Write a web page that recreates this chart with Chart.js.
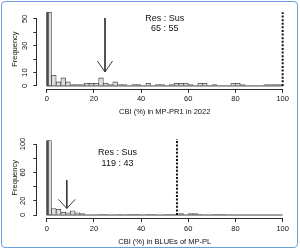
<!DOCTYPE html>
<html>
<head>
<meta charset="utf-8">
<script src="https://cdn.jsdelivr.net/npm/chart.js@4.4.1/dist/chart.umd.min.js"></script>
<style>
  body { margin: 0; background: #fff; }
  #frame { position: absolute; left: 0; top: 0; width: 300px; height: 250px; overflow: hidden; }
  canvas { position: absolute; left: 0; }
  #border { position: absolute; left: 1px; top: 1px; width: 295px; height: 245px;
            border: 1.5px solid #6b9ee0; border-radius: 4px; pointer-events: none; }
</style>
</head>
<body>
<div id="frame">
  <canvas id="topChart" width="300" height="125" style="top:0"></canvas>
  <canvas id="bottomChart" width="300" height="125" style="top:125px"></canvas>
  <div id="border"></div>
</div>
<script>
"use strict";

// bin midpoints (bins of 2 % CBI)
const binMids = [1, 3, 5, 7, 9, 11, 13, 15, 17, 19, 21, 23, 25, 27, 29, 31, 33, 35, 37, 39,
                 41, 43, 45, 47, 49, 51, 53, 55, 57, 59, 61, 63, 65, 67, 69, 71, 73, 75, 77, 79,
                 81, 83, 85, 87, 89, 91, 93, 95, 97, 99];

const topCounts = [55, 8, 3, 6, 3, 1, 1, 1, 2, 2, 2, 6, 2, 1, 3, 1, 1, 0, 1, 1,
                   0, 2, 0, 1, 1, 0, 1, 2, 2, 2, 1, 0, 2, 2, 0, 1, 0, 0, 0, 2,
                   2, 1, 0, 0, 0, 0, 1, 1, 1, 1];

const bottomCounts = [105, 9, 8, 4, 3, 6, 3, 2, 0, 0, 0, 1, 1, 0, 0, 1, 0, 1, 1, 1,
                      0, 1, 1, 0, 0, 1, 1, 1, 2, 0, 2, 2, 1, 0, 0, 1, 1, 1, 0, 0,
                      0, 0, 0, 0, 0, 0, 0, 0, 0, 0];

const xTicks = [0, 20, 40, 60, 80, 100];
const topYTicks = [0, 10, 20, 30, 40, 50];
const topYLabels = ['0', '10', '', '30', '', '50'];
const bottomYTicks = [0, 20, 40, 60, 80, 100];
const bottomYLabels = ['0', '20', '', '60', '', '100'];

const topTitle = 'CBI (%) in MP-PR1 in 2022';
const bottomTitle = 'CBI (%) in BLUEs of MP-PL';
const topRatio = ['Res : Sus', '65 : 55'];
const bottomRatio = ['Res : Sus', '119 : 43'];

// arrows: x, top, tip
const topArrow = {x: 24.7, top: 50.7, tip: 10.4};
const bottomArrow = {x: 8.5, top: 49, tip: 9.4};
// threshold (dotted) lines
const topThreshold = 100;
const bottomThreshold = 55.2;

const FONT = '"Liberation Sans", Arial, Helvetica, sans-serif';
const INK = '#2b2b2b';

const rAxes = {
  id: 'rAxes',
  afterDraw(chart, args, opts) {
    const {ctx, scales: {x, y}} = chart;
    const xt = x.ticks, yt = y.ticks;
    ctx.save();
    ctx.strokeStyle = INK;
    ctx.lineWidth = 1;
    ctx.beginPath();
    const ay = Math.round(x.top) + 0.5;
    ctx.moveTo(x.getPixelForValue(xt[0].value), ay);
    ctx.lineTo(x.getPixelForValue(xt[xt.length - 1].value), ay);
    const ax = Math.round(y.right) - 0.5;
    ctx.moveTo(ax, y.getPixelForValue(yt[0].value));
    ctx.lineTo(ax, y.getPixelForValue(yt[yt.length - 1].value));
    ctx.stroke();
    ctx.fillStyle = '#111';
    ctx.font = '9px ' + FONT;
    ctx.textAlign = 'center';
    ctx.textBaseline = 'middle';
    opts.text.forEach((t, i) => {
      ctx.fillText(t, x.getPixelForValue(opts.textX), y.getPixelForValue(opts.textY[i]));
    });
    ctx.restore();
  }
};

function makeHist(id, counts, yTicks, yLabels, title, ratio, arrow, threshold, lay) {
  const maxCount = Math.max(...counts);
  const yPad = maxCount * 0.04;
  const wing = lay.wing;
  const datasets = [
    {
      type: 'bar',
      data: binMids.map((m, i) => ({x: m, y: counts[i]})),
      backgroundColor: '#dedede',
      borderColor: '#444',
      borderWidth: 0.8,
      borderSkipped: 'start',
      barPercentage: 1,
      categoryPercentage: 1,
      order: 2
    },
    { // baseline of the histogram
      type: 'line',
      data: [{x: 0, y: 0}, {x: 100, y: 0}],
      borderColor: '#444', borderWidth: 1, pointRadius: 0, order: 1
    },
    { // dark band at 0
      type: 'line',
      data: [{x: 0.35, y: 0}, {x: 0.35, y: maxCount}],
      borderColor: '#4d4d4d', borderWidth: 2.5, pointRadius: 0, order: 0
    },
    { // dotted threshold
      type: 'line',
      data: [{x: threshold, y: 0}, {x: threshold, y: lay.thrTop}],
      borderColor: '#111', borderWidth: 2, borderDash: [2, 1.6], pointRadius: 0, order: 0
    },
    { // arrow shaft
      type: 'line',
      data: [{x: arrow.x, y: arrow.top}, {x: arrow.x, y: arrow.tip}],
      borderColor: '#3a3a3a', borderWidth: 1, pointRadius: 0, order: 0
    },
    { // arrow head
      type: 'line',
      data: [{x: arrow.x - wing.dx, y: arrow.tip + wing.dy}, {x: arrow.x, y: arrow.tip},
             {x: arrow.x + wing.dx, y: arrow.tip + wing.dy}],
      borderColor: '#3a3a3a', borderWidth: 1, pointRadius: 0, order: 0
    }
  ];

  return new Chart(document.getElementById(id), {
    data: {datasets: datasets},
    plugins: [rAxes],
    options: {
      responsive: false,
      animation: false,
      layout: {padding: {left: 0, right: 7.9, top: lay.top, bottom: 0}},
      plugins: {
        legend: {display: false},
        tooltip: {enabled: false},
        rAxes: {text: ratio, textX: lay.textX, textY: lay.textY}
      },
      scales: {
        x: {
          type: 'linear',
          offset: false,
          min: -4, max: 104,
          afterBuildTicks: s => { s.ticks = xTicks.map(v => ({value: v})); },
          afterFit: s => { s.height = lay.xHeight; },
          grid: {offset: false, drawOnChartArea: false, drawTicks: true, tickLength: 4, color: INK},
          border: {display: false},
          ticks: {color: '#111', font: {family: FONT, size: 7.5}, padding: 2, maxRotation: 0,
                  callback: v => String(v)},
          title: {display: true, text: title, color: '#111', font: {family: FONT, size: 7.5},
                  padding: {top: 0, bottom: lay.titlePad}}
        },
        y: {
          type: 'linear',
          min: -yPad, max: maxCount + yPad,
          afterBuildTicks: s => { s.ticks = yTicks.map(v => ({value: v})); },
          afterFit: s => { s.width = 37.3; },
          grid: {drawOnChartArea: false, drawTicks: true, tickLength: 4, color: INK},
          border: {display: false},
          ticks: {color: '#111', font: {family: FONT, size: 7.5}, padding: 4,
                  minRotation: 90, maxRotation: 90, crossAlign: 'center',
                  callback: (v, i) => yLabels[i]},
          title: {display: true, text: 'Frequency', color: '#111', font: {family: FONT, size: 7.5},
                  padding: {top: 10, bottom: 0}}
        }
      }
    }
  });
}

makeHist('topChart', topCounts, topYTicks, topYLabels, topTitle, topRatio, topArrow, topThreshold,
  {top: 9.3, xHeight: 36.1, titlePad: 8.5, textX: 50, textY: [50, 42.5], thrTop: 55,
   wing: {dx: 3.2, dy: 8.2}});
makeHist('bottomChart', bottomCounts, bottomYTicks, bottomYLabels, bottomTitle, bottomRatio,
  bottomArrow, bottomThreshold,
  {top: 12.5, xHeight: 32, titlePad: 3.5, textX: 30, textY: [88.7, 73], thrTop: 107,
   wing: {dx: 3.6, dy: 12.7}});
</script>
</body>
</html>
